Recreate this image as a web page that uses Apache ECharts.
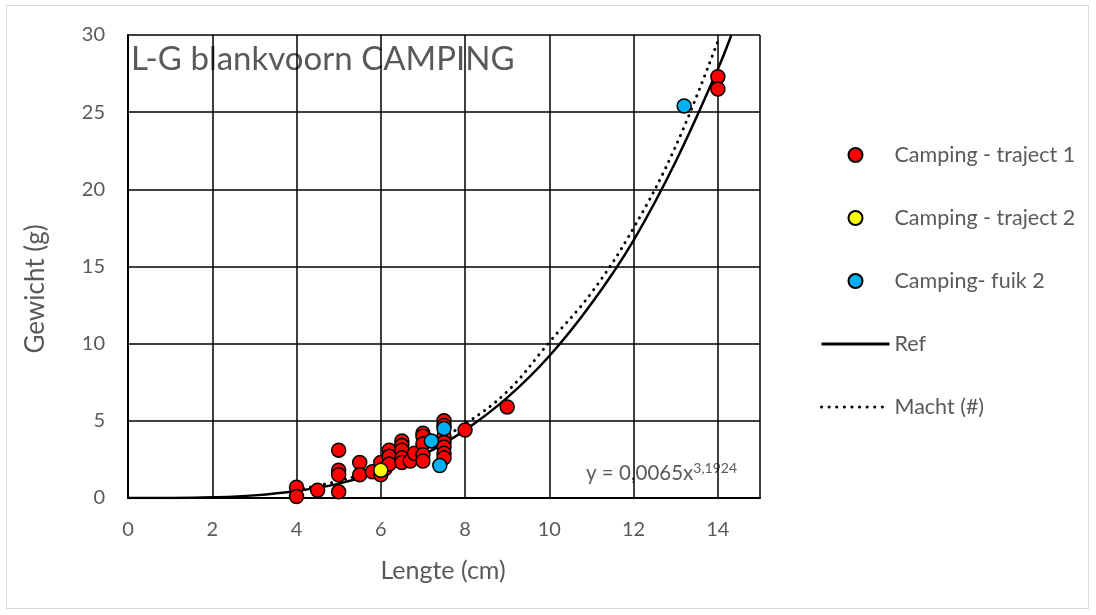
<!DOCTYPE html>
<html>
<head>
<meta charset="utf-8">
<script src="https://cdn.jsdelivr.net/npm/echarts@6/dist/echarts.min.js"></script>
<style>
html,body{margin:0;padding:0;background:#fff;}
#frame{position:absolute;left:6px;top:5px;width:1083px;height:604px;border:1px solid #d9d9d9;box-sizing:border-box;}
#chart{position:absolute;left:0;top:0;width:1096px;height:615px;}
</style>
</head>
<body>
<div id="frame"></div>
<div id="chart"></div>
<script>
// ---- data ----
var titleText = 'L-G blankvoorn CAMPING';
var xAxisTitle = 'Lengte (cm)';
var yAxisTitle = 'Gewicht (g)';
var seriesNames = ['Camping - traject 1', 'Camping - traject 2', 'Camping- fuik 2', 'Ref', 'Macht (#)'];

var traject1 = [[4,0.7],[4,0.1],[4.5,0.5],[5,3.1],[5,1.8],[5,1.5],[5,0.4],[5.5,2.3],[5.5,1.5],[5.8,1.7],
  [6,2.3],[6,1.5],[6.1,1.9],[6.2,3.1],[6.2,2.7],[6.2,2.2],[6.5,3.7],[6.5,3.4],[6.5,3.1],[6.5,2.6],[6.5,2.3],
  [6.7,2.4],[6.8,2.9],[7,4.2],[7,4.0],[7,3.5],[7,2.8],[7,2.4],[7.5,5.0],[7.5,4.7],[7.5,4.0],[7.5,3.6],
  [7.5,3.3],[7.5,2.9],[7.5,2.6],[8,4.4],[9,5.9],[14,27.3],[14,26.5]];
var traject2 = [[6,1.8]];
var fuik2 = [[7.2,3.7],[7.4,2.1],[7.5,4.5],[13.2,25.4]];

var refCurve = [[0,0],[1,0.005],[2,0.045],[3,0.17],[4,0.45],[5,0.93],[6,1.72],[7,2.8],[8,4.4],[9,6.5],
  [10,9.2],[11,12.6],[12,16.7],[13,21.8],[14,27.8],[14.32,30]];
var machtCurve = [[4,0.54],[5,1.1],[6,1.96],[7,3.2],[8,4.8],[9,6.9],[10,10.1],[11,13.3],[12,17.5],[13,22.8],[14,29.6]];

var eqMain = 'y = 0,0065x';
var eqExp = '3,1924';

var grey = '#595959';
var font = 'Lato';
var hidden = {color: 'rgba(0,0,0,0)', borderColor: 'rgba(0,0,0,0)', borderWidth: 0};

var chart = echarts.init(document.getElementById('chart'));
chart.setOption({
  animation: false,
  textStyle: {fontFamily: font},
  grid: {left: 128, right: 336, top: 35, bottom: 117},
  xAxis: {
    type: 'value', min: 0, max: 15, interval: 2,
    axisLine: {show: true, onZero: false, lineStyle: {color: '#000', width: 2}},
    axisTick: {show: false},
    axisLabel: {color: grey, fontSize: 20, margin: 22, fontFamily: font, showMaxLabel: false},
    splitLine: {show: true, lineStyle: {color: '#000', width: 1.5}}
  },
  yAxis: {
    type: 'value', min: 0, max: 30, interval: 5,
    axisLine: {show: true, lineStyle: {color: '#000', width: 2}},
    axisTick: {show: false},
    axisLabel: {color: grey, fontSize: 20, margin: 23, fontFamily: font},
    splitLine: {show: true, lineStyle: {color: '#000', width: 1.5}}
  },
  legend: {
    orient: 'vertical', left: 815, top: 139, itemGap: 41,
    itemWidth: 68, itemHeight: 14,
    textStyle: {color: grey, fontSize: 21.5, fontFamily: font},
    data: [
      {name: seriesNames[0]},
      {name: seriesNames[1]},
      {name: seriesNames[2]},
      {name: seriesNames[3], itemStyle: hidden, lineStyle: {width: 3}},
      {name: seriesNames[4], itemStyle: hidden, lineStyle: {width: 3, type: [0.1, 7.5]}}
    ]
  },
  graphic: [
    {type: 'text', left: 131, top: 43, style: {text: titleText, fill: grey, font: '33px ' + font}},
    {type: 'text', x: 443, y: 571, style: {text: xAxisTitle, fill: grey, font: '25px ' + font, align: 'center', verticalAlign: 'middle'}},
    {type: 'text', x: 36, y: 289, rotation: Math.PI/2, style: {text: yAxisTitle, fill: grey, font: '26px ' + font, align: 'center', verticalAlign: 'middle'}},
    {type: 'text', left: 586, top: 461, style: {
      text: '{a|' + eqMain + '}{b|' + eqExp + '}',
      rich: {a: {fill: grey, fontSize: 20.5, fontFamily: font}, b: {fill: grey, fontSize: 14, fontFamily: font, padding: [0,0,11,0]}}
    }}
  ],
  series: [
    {name: seriesNames[0], type: 'scatter', data: traject1, symbolSize: 14, z: 5,
      itemStyle: {color: '#ff0000', borderColor: '#000', borderWidth: 1.5, opacity: 1}},
    {name: seriesNames[1], type: 'scatter', data: traject2, symbolSize: 14, z: 5,
      itemStyle: {color: '#ffff00', borderColor: '#000', borderWidth: 1.5, opacity: 1}},
    {name: seriesNames[2], type: 'scatter', data: fuik2, symbolSize: 14, z: 5,
      itemStyle: {color: '#00b0f0', borderColor: '#000', borderWidth: 1.5, opacity: 1}},
    {name: seriesNames[3], type: 'line', data: refCurve, smooth: 0.4, symbol: 'none', z: 3, clip: true,
      lineStyle: {color: '#000', width: 2.5, type: 'solid'}, itemStyle: {color: '#000'}},
    {name: seriesNames[4], type: 'line', data: machtCurve, smooth: 0.4, symbol: 'none', z: 3,
      lineStyle: {color: '#000', width: 3, type: [0.1, 7], cap: 'round'}, itemStyle: {color: '#000'}}
  ]
});
</script>
</body>
</html>
